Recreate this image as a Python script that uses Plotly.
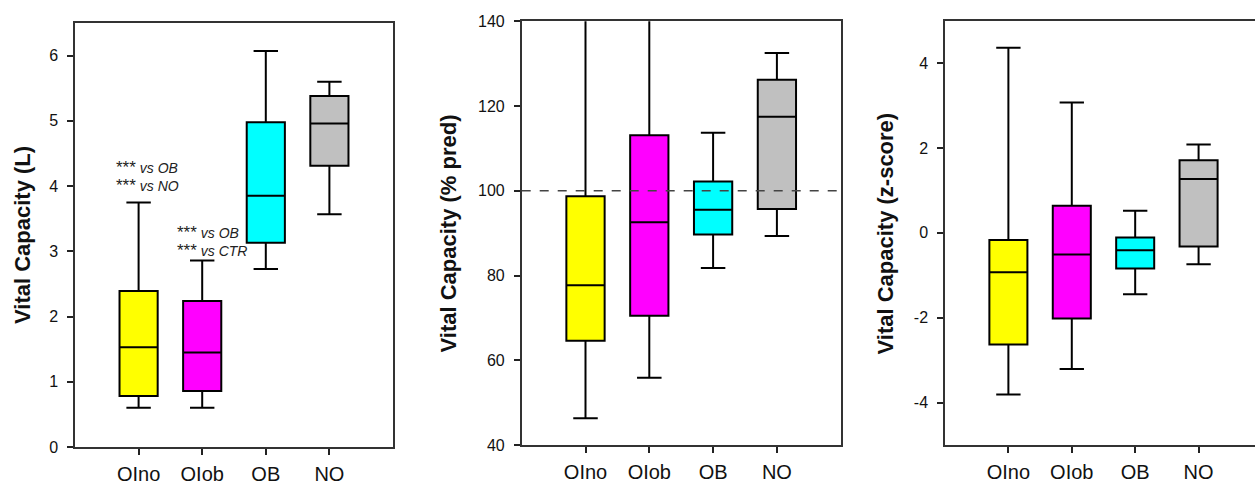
import plotly.graph_objects as go

W, H = 1255, 485

categories = ["OIno", "OIob", "OB", "NO"]
colors = ["#FFFF00", "#FF00FF", "#00FFFF", "#C0C0C0"]

# Panel 1: Vital Capacity (L)
vc_l_lower = [0.60, 0.60, 2.73, 3.57]
vc_l_q1 = [0.78, 0.86, 3.13, 4.31]
vc_l_median = [1.53, 1.45, 3.85, 4.96]
vc_l_q3 = [2.39, 2.24, 4.98, 5.38]
vc_l_upper = [3.75, 2.86, 6.07, 5.60]

# Panel 2: Vital Capacity (% pred)
vc_pct_lower = [46.3, 55.9, 81.8, 89.3]
vc_pct_q1 = [64.6, 70.5, 89.7, 95.7]
vc_pct_median = [77.7, 92.6, 95.5, 117.5]
vc_pct_q3 = [98.7, 113.1, 102.2, 126.2]
vc_pct_upper = [152.0, 148.0, 113.7, 132.5]

# Panel 3: Vital Capacity (z-score)
vc_z_lower = [-3.81, -3.21, -1.45, -0.74]
vc_z_q1 = [-2.63, -2.02, -0.84, -0.32]
vc_z_median = [-0.93, -0.51, -0.41, 1.27]
vc_z_q3 = [-0.17, 0.64, -0.11, 1.71]
vc_z_upper = [4.36, 3.07, 0.52, 2.08]

panels = [
    ("x", "y", vc_l_lower, vc_l_q1, vc_l_median, vc_l_q3, vc_l_upper),
    ("x2", "y2", vc_pct_lower, vc_pct_q1, vc_pct_median, vc_pct_q3, vc_pct_upper),
    ("x3", "y3", vc_z_lower, vc_z_q1, vc_z_median, vc_z_q3, vc_z_upper),
]

fig = go.Figure()
for xa, ya, lo, q1, med, q3, up in panels:
    for i, cat in enumerate(categories):
        fig.add_trace(go.Box(
            x=[cat], lowerfence=[lo[i]], q1=[q1[i]], median=[med[i]],
            q3=[q3[i]], upperfence=[up[i]],
            fillcolor=colors[i],
            line=dict(color="#000000", width=2),
            width=0.6, whiskerwidth=0.64,
            boxpoints=False, hoverinfo="skip",
            showlegend=False, xaxis=xa, yaxis=ya,
        ))

FONT = "Arial, Liberation Sans, sans-serif"

def px_x(p):
    return p / W

def px_y(p):
    return 1 - p / H

axis_common = dict(
    showline=True, linecolor="#333333", linewidth=1.5,
    ticks="outside", ticklen=6, tickwidth=1.5, tickcolor="#222222",
    showgrid=False, zeroline=False, automargin=False,
    tickfont=dict(family=FONT, size=16, color="#111111"),
)

xcommon = dict(axis_common, type="category", categoryorder="array",
               categoryarray=categories, mirror=True,
               tickfont=dict(family=FONT, size=20, color="#111111"),
               ticklabelstandoff=2)

fig.update_layout(
    template="none",
    width=W, height=H,
    margin=dict(l=0, r=0, t=0, b=0, pad=0),
    paper_bgcolor="white", plot_bgcolor="white",
    boxmode="overlay",
    xaxis=dict(xcommon, domain=[px_x(75), px_x(393)], range=[-1, 4], anchor="y"),
    yaxis=dict(axis_common, domain=[px_y(447), px_y(23)], range=[0, 6.5],
               tickvals=[0, 1, 2, 3, 4, 5, 6], mirror=True, anchor="x",
               ticklabelstandoff=6),
    xaxis2=dict(xcommon, domain=[px_x(521.7), px_x(840.7)], range=[-1, 4], anchor="y2"),
    yaxis2=dict(axis_common, domain=[px_y(445), px_y(21.3)], range=[40, 140],
                tickvals=[40, 60, 80, 100, 120, 140], mirror=True, anchor="x2",
                ticklabelstandoff=6),
    xaxis3=dict(xcommon, domain=[px_x(945), 1.0], range=[-1, 3.89], anchor="y3"),
    yaxis3=dict(axis_common, domain=[px_y(445), px_y(20.7)], range=[-5, 5],
                tickvals=[-4, -2, 0, 2, 4], ticktext=["-4", "-2", "0", "2", "4"],
                mirror=False, anchor="x3", ticklabelstandoff=6),
)

# reference line at 100 % predicted
fig.add_shape(type="line", xref="x2 domain", yref="y2", x0=0, x1=1, y0=100, y1=100,
              line=dict(color="#444444", width=1.5, dash="dash"), layer="above")

# axis titles
titles = [("Vital Capacity (L)", 22, 235), ("Vital Capacity (% pred)", 448, 233.5),
          ("Vital Capacity (z-score)", 885, 233.5)]
for txt, xp, yp in titles:
    fig.add_annotation(text=txt, xref="paper", yref="paper", x=px_x(xp), y=px_y(yp),
                       xanchor="center", yanchor="middle", textangle=-90, showarrow=False,
                       font=dict(family=FONT, size=22, color="#111111", weight="bold"))

# significance annotations
STAR = '<span style="font-size:17px">***</span>'
sig = [(STAR + "<i> vs OB</i><br>" + STAR + "<i> vs NO</i>", -0.38, 4.15),
       (STAR + "<i> vs OB</i><br>" + STAR + "<i> vs CTR</i>", 0.58, 3.15)]
for txt, xv, yv in sig:
    fig.add_annotation(text=txt, xref="x", yref="y", x=xv, y=yv, xanchor="left",
                       yanchor="middle", align="left", showarrow=False,
                       font=dict(family=FONT, size=14, color="#222222"))

fig.write_html(
    "out.html",
    config={"displayModeBar": False},
    post_script="document.body.style.margin='0';document.body.style.overflow='hidden';",
)
